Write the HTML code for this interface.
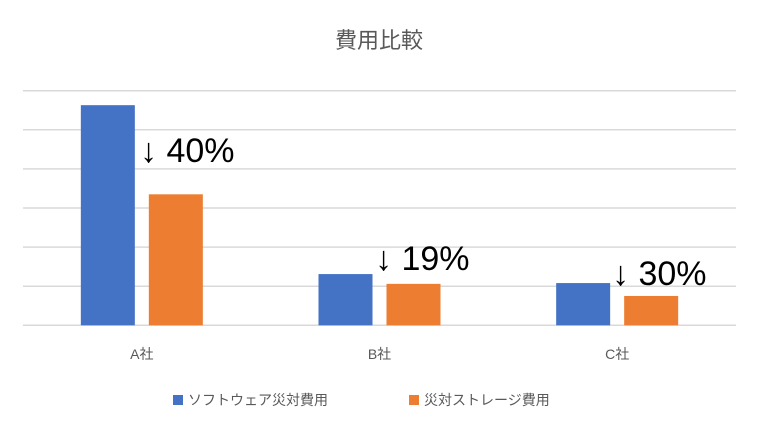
<!DOCTYPE html>
<html><head><meta charset="utf-8"><style>
body{margin:0;background:#fff;}
svg text{font-family:"Liberation Sans","Noto Sans CJK JP",sans-serif;}
</style></head><body>
<svg width="759" height="432">
<text x="379" y="48" text-anchor="middle" font-size="22" fill="#595959">費用比較</text>
<g id="grid"></g><g id="bars"></g><g id="xlabels"></g>
<g fill="#000">
<text x="140" y="162" font-size="34">↓ 40%</text>
<text x="375" y="270" font-size="34">↓ 19%</text>
<text x="612" y="285" font-size="34">↓ 30%</text>
</g>
<g>
<rect x="173" y="395" width="10" height="10" fill="#4472C4"/>
<text x="188" y="405" font-size="14" fill="#595959">ソフトウェア災対費用</text>
<rect x="409" y="395" width="10" height="10" fill="#ED7D31"/>
<text x="424" y="405" font-size="14" fill="#595959">災対ストレージ費用</text>
</g>
</svg>
<script>
const categories=["A社","B社","C社"];
const softwareCost=[5.63,1.31,1.08];
const storageCost=[3.35,1.06,0.75];
const yTicks=[0,1,2,3,4,5,6];
const NS="http://www.w3.org/2000/svg";
const x0=23,x1=736,yBase=325.3,unit=39.1;
const y=v=>yBase-v*unit;
const bw=(x1-x0)/categories.length;
const grid=document.getElementById('grid'),bars=document.getElementById('bars'),xl=document.getElementById('xlabels');
yTicks.forEach(t=>{const l=document.createElementNS(NS,'line');
l.setAttribute('x1',x0);l.setAttribute('x2',x1);l.setAttribute('y1',y(t));l.setAttribute('y2',y(t));
l.setAttribute('stroke','#d9d9d9');l.setAttribute('stroke-width','1.5');


grid.appendChild(l);});
categories.forEach((c,i)=>{const cx=x0+bw*(i+0.5);
[[softwareCost,'#4472C4',-61,'software'],[storageCost,'#ED7D31',7,'storage']].forEach(([arr,col,off,nm])=>{
const r=document.createElementNS(NS,'rect');
r.setAttribute('x',cx+off);r.setAttribute('width',54);r.setAttribute('y',y(arr[i]));r.setAttribute('height',yBase-y(arr[i]));r.setAttribute('fill',col);


bars.appendChild(r);});
const t=document.createElementNS(NS,'text');t.setAttribute('x',cx);t.setAttribute('y',359);t.setAttribute('text-anchor','middle');t.setAttribute('font-size','14');t.setAttribute('fill','#595959');t.textContent=c;


xl.appendChild(t);});
</script>
</body></html>
